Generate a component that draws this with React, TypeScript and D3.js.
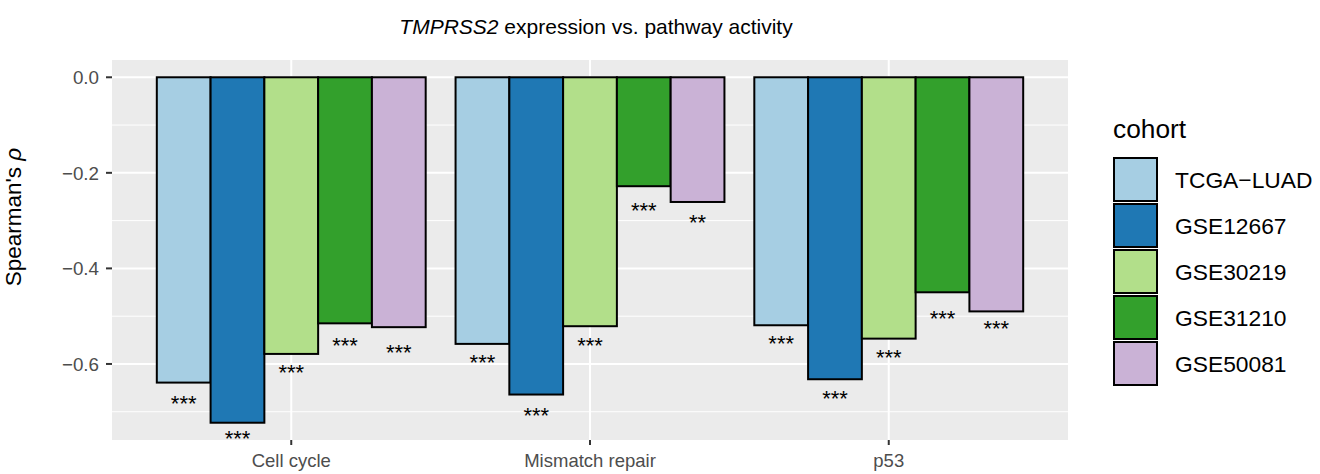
import React from "react";
import * as d3 from "d3";

// Pathways on the x axis and the cohorts that are dodged within each pathway
const pathways = ["Cell cycle", "Mismatch repair", "p53"];
const cohorts = ["TCGA\u2212LUAD", "GSE12667", "GSE30219", "GSE31210", "GSE50081"];
const cohortColors = ["#A6CEE3", "#1F78B4", "#B2DF8A", "#33A02C", "#CAB2D6"];

// Spearman's rho per cohort, one array per pathway (cohort order as above)
const rhoCellCycle = [-0.639, -0.723, -0.579, -0.515, -0.523];
const rhoMismatchRepair = [-0.558, -0.664, -0.521, -0.228, -0.261];
const rhoP53 = [-0.519, -0.632, -0.547, -0.45, -0.49];

// Significance stars and the y position at which each is printed
const starsCellCycle = ["***", "***", "***", "***", "***"];
const starsMismatchRepair = ["***", "***", "***", "***", "**"];
const starsP53 = ["***", "***", "***", "***", "***"];
const starYCellCycle = [-0.671, -0.745, -0.606, -0.55, -0.564];
const starYMismatchRepair = [-0.585, -0.696, -0.55, -0.267, -0.292];
const starYP53 = [-0.546, -0.661, -0.576, -0.493, -0.514];

const yTicks = [0, -0.2, -0.4, -0.6];
const yMinor = [-0.1, -0.3, -0.5, -0.7];

const rhoByPathway = [rhoCellCycle, rhoMismatchRepair, rhoP53];
const starsByPathway = [starsCellCycle, starsMismatchRepair, starsP53];
const starYByPathway = [starYCellCycle, starYMismatchRepair, starYP53];

const W = 1320;
const H = 474;
const panel = { left: 112, right: 1068, top: 60, bottom: 440 };
const FONT = "Liberation Sans, Arial, Helvetica, sans-serif";

export default function App() {
  const rows = pathways.flatMap((p, i) =>
    cohorts.map((c, j) => ({
      pathway: p,
      cohort: c,
      color: cohortColors[j],
      rho: rhoByPathway[i][j],
      stars: starsByPathway[i][j],
      starY: starYByPathway[i][j],
    }))
  );

  // Continuous y with ggplot-style 5% expansion around [min, 0]
  const lo = Math.min(0, d3.min(rows, (r) => r.rho) as number);
  const hi = Math.max(0, d3.max(rows, (r) => r.rho) as number);
  const pad = (hi - lo) * 0.05;
  const y = d3
    .scaleLinear()
    .domain([hi + pad, lo - pad])
    .range([panel.top, panel.bottom]);

  // Discrete x with 0.6-unit expansion on each side
  const unit = (panel.right - panel.left) / (pathways.length - 1 + 1.2);
  const xCenter = d3
    .scalePoint<string>()
    .domain(pathways)
    .range([panel.left + 0.6 * unit, panel.right - 0.6 * unit]);
  const inner = d3
    .scaleBand<string>()
    .domain(cohorts)
    .range([-0.45 * unit, 0.45 * unit])
    .padding(0);

  const legendX = 1113;
  const legendTop = 157;
  const keyH = 46;
  const keyW = 45;

  return (
    <svg
      width={W}
      height={H}
      style={{ position: "absolute", left: 0, top: 0, background: "#fff" }}
      fontFamily={FONT}
    >
      {/* Plot title */}
      <text x={596} y={34} textAnchor="middle" fontSize={21} fill="#000">
        <tspan fontStyle="italic">TMPRSS2</tspan>
        <tspan> expression vs. pathway activity</tspan>
      </text>

      {/* Panel background and grid */}
      <rect
        x={panel.left}
        y={panel.top}
        width={panel.right - panel.left}
        height={panel.bottom - panel.top}
        fill="#EBEBEB"
      />
      {yMinor.map((v) => (
        <line key={"mn" + v} x1={panel.left} x2={panel.right} y1={y(v)} y2={y(v)} stroke="#fff" strokeWidth={1} />
      ))}
      {yTicks.map((v) => (
        <line key={"mj" + v} x1={panel.left} x2={panel.right} y1={y(v)} y2={y(v)} stroke="#fff" strokeWidth={2} />
      ))}
      {pathways.map((p) => (
        <line
          key={"vx" + p}
          x1={xCenter(p)}
          x2={xCenter(p)}
          y1={panel.top}
          y2={panel.bottom}
          stroke="#fff"
          strokeWidth={2}
        />
      ))}

      {/* Bars */}
      {rows.map((r) => {
        const x0 = (xCenter(r.pathway) as number) + (inner(r.cohort) as number);
        const y0 = Math.min(y(0), y(r.rho));
        const h = Math.abs(y(r.rho) - y(0));
        return (
          <rect
            key={r.pathway + r.cohort}
            x={x0}
            y={y0}
            width={inner.bandwidth()}
            height={h}
            fill={r.color}
            stroke="#000"
            strokeWidth={2}
          />
        );
      })}

      {/* Significance stars */}
      {rows.map((r) => {
        const cx = (xCenter(r.pathway) as number) + (inner(r.cohort) as number) + inner.bandwidth() / 2;
        return (
          <text
            key={"s" + r.pathway + r.cohort}
            x={cx}
            y={y(r.starY) + 13}
            textAnchor="middle"
            fontSize={22}
            fill="#000"
          >
            {r.stars}
          </text>
        );
      })}

      {/* Y axis */}
      {yTicks.map((v) => (
        <g key={"yt" + v}>
          <line x1={panel.left - 6} x2={panel.left} y1={y(v)} y2={y(v)} stroke="#333" strokeWidth={2} />
          <text x={panel.left - 13} y={y(v) + 7} textAnchor="end" fontSize={18.8} fill="#4D4D4D">
            {d3.format(".1f")(v).replace("-", "\u2212")}
          </text>
        </g>
      ))}
      <text
        transform={`translate(21,217) rotate(-90)`}
        textAnchor="middle"
        fontSize={22.5}
        fill="#000"
      >
        Spearman's <tspan fontStyle="italic">ρ</tspan>
      </text>

      {/* X axis */}
      {pathways.map((p) => (
        <g key={"xt" + p}>
          <line
            x1={xCenter(p)}
            x2={xCenter(p)}
            y1={panel.bottom}
            y2={panel.bottom + 5}
            stroke="#333"
            strokeWidth={2}
          />
          <text x={xCenter(p)} y={467} textAnchor="middle" fontSize={18.5} fill="#4D4D4D">
            {p}
          </text>
        </g>
      ))}

      {/* Legend */}
      <text x={legendX} y={138} fontSize={26.3} fill="#000">
        cohort
      </text>
      {cohorts.map((c, j) => (
        <g key={"lg" + c}>
          <rect
            x={legendX + 1}
            y={legendTop + j * keyH + 1}
            width={keyW - 2}
            height={keyH - 3}
            fill={cohortColors[j]}
            stroke="#000"
            strokeWidth={2}
          />
          <text x={1175} y={legendTop + j * keyH + keyH / 2 + 7.5} fontSize={22.8} fill="#000">
            {c}
          </text>
        </g>
      ))}
    </svg>
  );
}
